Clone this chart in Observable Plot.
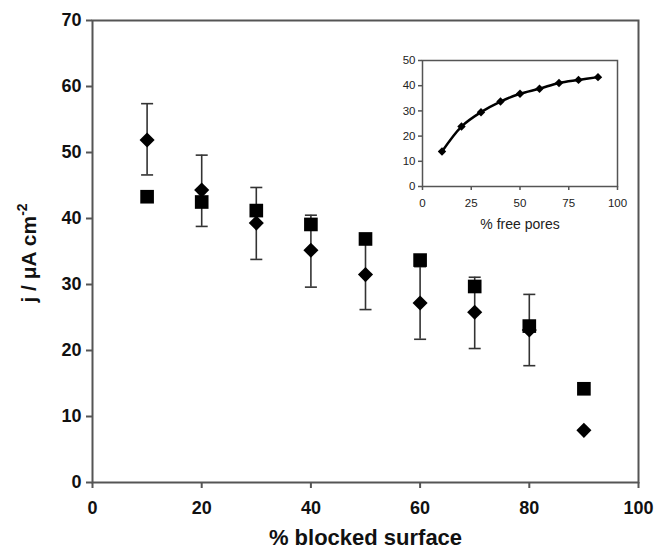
<!DOCTYPE html>
<html>
<head>
<meta charset="utf-8">
<script src="https://cdn.jsdelivr.net/npm/d3@7"></script>
<script src="https://cdn.jsdelivr.net/npm/@observablehq/plot@0.6"></script>
<style>
  body { margin: 0; background: #fff; }
  #wrap { position: relative; width: 657px; height: 555px; font-family: "Liberation Sans", Arial, sans-serif; }
  #inset { position: absolute; left: 385px; top: 50px; }
</style>
</head>
<body>
<div id="wrap"><div id="main"></div><div id="inset"></div></div>
<script>
// Main chart data
const blocked = [10, 20, 30, 40, 50, 60, 70, 80, 90];
const jDiamond = [51.9, 44.3, 39.3, 35.2, 31.5, 27.2, 25.8, 23.1, 7.9];
const errLow   = [46.6, 38.8, 33.8, 29.6, 26.2, 21.7, 20.3, 17.7, null];
const errHigh  = [57.4, 49.6, 44.7, 40.5, 36.8, 32.7, 31.1, 28.5, null];
const jSquare  = [43.3, 42.5, 41.2, 39.1, 36.9, 33.7, 29.7, 23.7, 14.2];
const xTicks = [0, 20, 40, 60, 80, 100];
const yTicks = [0, 10, 20, 30, 40, 50, 60, 70];

// Inset data
const freePores = [10, 20, 30, 40, 50, 60, 70, 80, 90];
const jInset = [13.9, 23.8, 29.5, 33.7, 36.8, 38.8, 41.1, 42.3, 43.4];
const insetXTicks = [0, 25, 50, 75, 100];
const insetYTicks = [0, 10, 20, 30, 40, 50];

const diam = blocked.map((x, i) => ({x, y: jDiamond[i], lo: errLow[i], hi: errHigh[i]}));
const errs = diam.filter(d => d.lo != null);
const sq = blocked.map((x, i) => ({x, y: jSquare[i]}));
const capHalf = 1.1;

const axisColor = "#555";

const main = Plot.plot({
  width: 657,
  height: 555,
  marginLeft: 92,
  marginRight: 19,
  marginTop: 20,
  marginBottom: 73,
  style: {fontFamily: "'Liberation Sans', Arial, sans-serif", background: "#fff"},
  x: {domain: [0, 100]},
  y: {domain: [0, 70]},
  marks: [
    Plot.frame({stroke: axisColor, strokeWidth: 2}),
    Plot.axisX({ticks: xTicks, tickSize: 6, tickPadding: 13, stroke: axisColor, strokeWidth: 2, fontSize: 18, fontWeight: "bold", fill: "#111",
      label: "% blocked surface", labelAnchor: "center", labelArrow: "none", labelOffset: 62}),
    Plot.axisY({ticks: yTicks, tickSize: 6, tickPadding: 5, stroke: axisColor, strokeWidth: 2, fontSize: 18, fontWeight: "bold", fill: "#111", label: null}),
    Plot.ruleX(errs, {x: "x", y1: "lo", y2: "hi", stroke: "#333", strokeWidth: 1.6}),
    Plot.link(errs, {x1: d => d.x - capHalf, x2: d => d.x + capHalf, y1: "hi", y2: "hi", stroke: "#333", strokeWidth: 1.6}),
    Plot.link(errs, {x1: d => d.x - capHalf, x2: d => d.x + capHalf, y1: "lo", y2: "lo", stroke: "#333", strokeWidth: 1.6}),
    Plot.dot(diam, {x: "x", y: "y", symbol: "diamond2", r: 6.8, fill: "#000", stroke: "none"}),
    Plot.dot(sq, {x: "x", y: "y", symbol: "square", r: 7.7, fill: "#000", stroke: "none"})
  ]
});
main.querySelectorAll("[aria-label='x-axis label'] text").forEach(t => {
  t.setAttribute("font-size", "22"); t.setAttribute("font-weight", "bold"); t.setAttribute("fill", "#111");
});
document.getElementById("main").appendChild(main);

const ns = "http://www.w3.org/2000/svg";
const yl = document.createElementNS(ns, "text");
yl.setAttribute("transform", "translate(36,253) rotate(-90)");
yl.setAttribute("text-anchor", "middle");
yl.setAttribute("font-size", "21");
yl.setAttribute("font-weight", "bold");
yl.setAttribute("fill", "#111");
yl.setAttribute("font-family", "'Liberation Sans', Arial, sans-serif");
const t1 = document.createElementNS(ns, "tspan"); t1.textContent = "j / \u03bcA cm";
const t2 = document.createElementNS(ns, "tspan"); t2.textContent = "-2"; t2.setAttribute("dy", "-9"); t2.setAttribute("font-size", "14");
yl.appendChild(t1); yl.appendChild(t2);
main.appendChild(yl);

const inset = Plot.plot({
  width: 245,
  height: 185,
  marginLeft: 37,
  marginRight: 13,
  marginTop: 10,
  marginBottom: 49,
  style: {fontFamily: "'Liberation Sans', Arial, sans-serif", background: "#fff"},
  x: {domain: [0, 100]},
  y: {domain: [0, 50]},
  marks: [
    Plot.frame({stroke: axisColor, strokeWidth: 1.5}),
    Plot.axisX({ticks: insetXTicks, tickSize: 4, tickPadding: 8, stroke: axisColor, strokeWidth: 1.5, fontSize: 11.5, fill: "#222",
      label: "% free pores", labelAnchor: "center", labelArrow: "none", labelOffset: 42}),
    Plot.axisY({ticks: insetYTicks, tickSize: 4, tickPadding: 3, stroke: axisColor, strokeWidth: 1.5, fontSize: 11.5, fill: "#222", label: null}),
    Plot.line(freePores.map((x, i) => ({x, y: jInset[i]})), {x: "x", y: "y", curve: "catmull-rom", stroke: "#000", strokeWidth: 2.5}),
    Plot.dot(freePores.map((x, i) => ({x, y: jInset[i]})), {x: "x", y: "y", symbol: "diamond2", r: 3.8, fill: "#000", stroke: "none"})
  ]
});
inset.querySelectorAll("[aria-label='x-axis label'] text").forEach(t => {
  t.setAttribute("font-size", "14"); t.setAttribute("fill", "#222");
});
document.getElementById("inset").appendChild(inset);
</script>
</body>
</html>
